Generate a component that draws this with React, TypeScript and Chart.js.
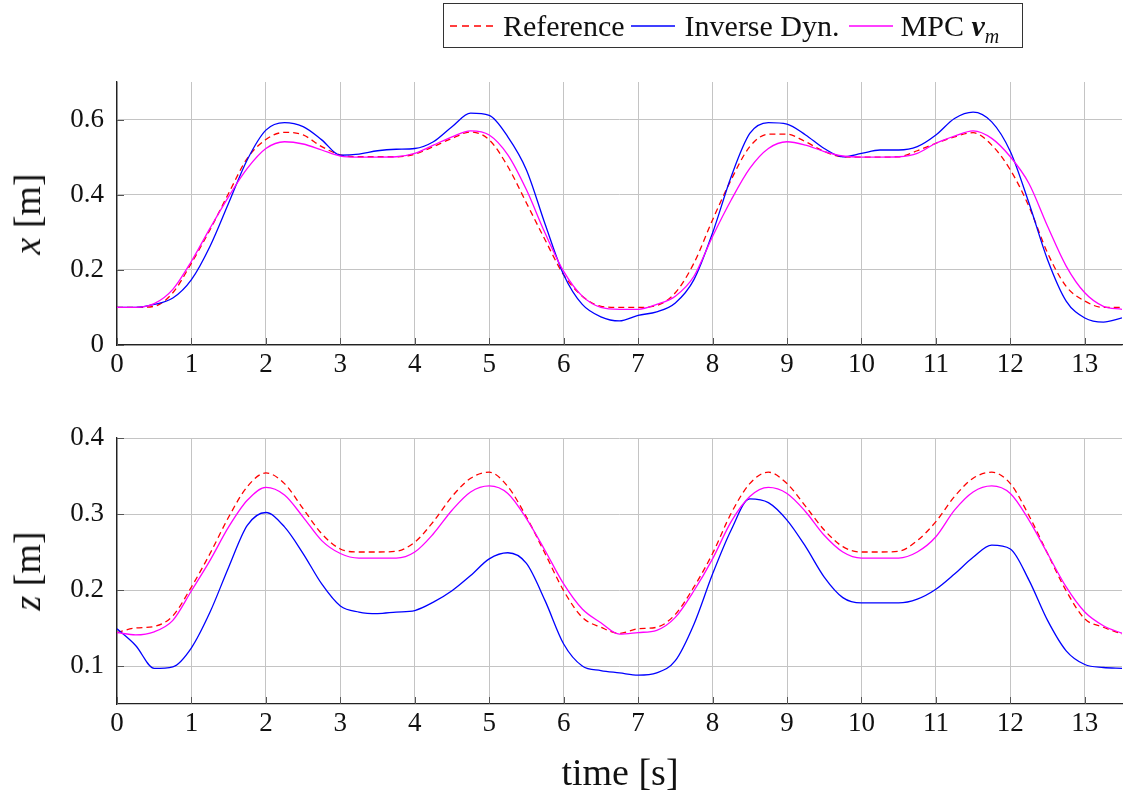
import React, { useEffect, useRef } from "react";
import { Chart, registerables } from "chart.js";

Chart.register(...registerables);

const time = [
  0, 0.25, 0.5, 0.75, 1, 1.25, 1.5, 1.75, 2, 2.25, 2.5, 2.75, 3, 3.25, 3.5, 3.75,
  4, 4.25, 4.5, 4.75, 5, 5.25, 5.5, 5.75, 6, 6.25, 6.5, 6.75, 7, 7.25, 7.5, 7.75,
  8, 8.25, 8.5, 8.75, 9, 9.25, 9.5, 9.75, 10, 10.25, 10.5, 10.75, 11, 11.25, 11.5,
  11.75, 12, 12.25, 12.5, 12.75, 13, 13.25, 13.5,
];

const refX = [
  0.1, 0.1, 0.103, 0.139, 0.218, 0.307, 0.404, 0.497, 0.547, 0.566, 0.559, 0.528, 0.506, 0.501, 0.501, 0.501,
  0.508, 0.528, 0.55, 0.567, 0.546, 0.475, 0.378, 0.28, 0.187, 0.13, 0.103, 0.1, 0.1, 0.105, 0.139, 0.218,
  0.333, 0.44, 0.528, 0.561, 0.561, 0.541, 0.515, 0.501, 0.5, 0.5, 0.501, 0.517, 0.537, 0.554, 0.565,
  0.532, 0.466, 0.369, 0.245, 0.156, 0.117, 0.1, 0.1,
];
const invX = [
  0.1, 0.1, 0.108, 0.125, 0.174, 0.263, 0.378, 0.493, 0.572, 0.592, 0.581, 0.546, 0.505, 0.508, 0.517, 0.521,
  0.523, 0.541, 0.581, 0.617, 0.611, 0.554, 0.466, 0.322, 0.187, 0.108, 0.075, 0.064, 0.079, 0.088, 0.112, 0.174,
  0.298, 0.448, 0.563, 0.592, 0.588, 0.559, 0.523, 0.501, 0.51, 0.519, 0.519, 0.528, 0.559, 0.603, 0.62,
  0.594, 0.515, 0.378, 0.227, 0.117, 0.072, 0.061, 0.072,
];
const mpcX = [
  0.1, 0.1, 0.11, 0.148, 0.223, 0.311, 0.395, 0.47, 0.523, 0.541, 0.535, 0.519, 0.503, 0.5, 0.5, 0.501,
  0.51, 0.532, 0.554, 0.57, 0.559, 0.506, 0.413, 0.298, 0.196, 0.13, 0.1, 0.095, 0.095, 0.108, 0.13, 0.183,
  0.289, 0.386, 0.47, 0.523, 0.541, 0.532, 0.515, 0.503, 0.5, 0.5, 0.501, 0.51, 0.537, 0.556, 0.57,
  0.55, 0.501, 0.43, 0.316, 0.21, 0.139, 0.103, 0.095,
];

const refZ = [
  0.144, 0.15, 0.152, 0.166, 0.204, 0.248, 0.296, 0.336, 0.354, 0.34, 0.307, 0.274, 0.254, 0.25, 0.25, 0.251,
  0.263, 0.29, 0.323, 0.347, 0.355, 0.336, 0.296, 0.248, 0.199, 0.164, 0.151, 0.143, 0.149, 0.151, 0.168, 0.204,
  0.248, 0.301, 0.34, 0.355, 0.34, 0.31, 0.279, 0.257, 0.25, 0.25, 0.251, 0.265, 0.29, 0.323, 0.347,
  0.355, 0.34, 0.298, 0.248, 0.199, 0.162, 0.151, 0.142,
];
const invZ = [
  0.149, 0.127, 0.097, 0.099, 0.124, 0.171, 0.23, 0.285, 0.302, 0.283, 0.248, 0.208, 0.179, 0.171, 0.169, 0.171,
  0.173, 0.184, 0.199, 0.219, 0.241, 0.249, 0.235, 0.186, 0.129, 0.1, 0.094, 0.091, 0.088, 0.091, 0.107, 0.155,
  0.221, 0.279, 0.32, 0.315, 0.292, 0.257, 0.217, 0.19, 0.183, 0.183, 0.183, 0.188, 0.201, 0.221, 0.243,
  0.259, 0.254, 0.213, 0.16, 0.12, 0.102, 0.098, 0.097,
];
const mpcZ = [
  0.144, 0.141, 0.145, 0.16, 0.199, 0.239, 0.283, 0.318, 0.335, 0.325, 0.296, 0.265, 0.248, 0.242, 0.242, 0.242,
  0.25, 0.274, 0.305, 0.329, 0.337, 0.327, 0.294, 0.252, 0.208, 0.175, 0.157, 0.142, 0.144, 0.147, 0.164, 0.199,
  0.241, 0.29, 0.323, 0.335, 0.327, 0.303, 0.272, 0.25, 0.242, 0.242, 0.242, 0.25, 0.27, 0.305, 0.329,
  0.337, 0.327, 0.292, 0.248, 0.204, 0.171, 0.153, 0.143,
];

const seriesNames = ["Reference", "Inverse Dyn.", "MPC v_m"];
const seriesColors = ["#ff0000", "#0000ff", "#ff00ff"];

const FONT = "'Liberation Serif', 'Times New Roman', serif";
const TICK_SIZE = 27;

const innerTicks = {
  id: "innerTicks",
  afterDraw(chart: any) {
    const { ctx, chartArea, scales } = chart;
    ctx.save();
    ctx.strokeStyle = "#555";
    ctx.lineWidth = 1;
    ctx.beginPath();
    for (const t of scales.x.ticks) {
      const px = Math.round(scales.x.getPixelForValue(t.value)) + 0.5;
      ctx.moveTo(px, chartArea.bottom);
      ctx.lineTo(px, chartArea.bottom - 7);
    }
    for (const t of scales.y.ticks) {
      const py = Math.round(scales.y.getPixelForValue(t.value)) + 0.5;
      ctx.moveTo(chartArea.left, py);
      ctx.lineTo(chartArea.left + 7, py);
    }
    ctx.stroke();
    ctx.restore();
  },
};

function makeDatasets(a: number[], b: number[], c: number[]) {
  const arrs = [a, b, c];
  return arrs.map((arr, i) => ({
    label: seriesNames[i],
    data: time.map((t, k) => ({ x: t, y: arr[k] })),
    borderColor: seriesColors[i],
    backgroundColor: seriesColors[i],
    borderWidth: 1.3,
    borderDash: i === 0 ? [6, 4] : [],
    pointRadius: 0,
    cubicInterpolationMode: "monotone" as const,
    fill: false,
    order: 3 - i,
  }));
}

function makeConfig(
  datasets: any[],
  yMin: number,
  yMax: number,
  padTop: number,
  xHeight: number
): any {
  return {
    type: "line",
    data: { datasets },
    plugins: [innerTicks],
    options: {
      responsive: false,
      animation: false,
      layout: { padding: { top: padTop, right: 1, left: 0, bottom: 0 } },
      plugins: { legend: { display: false }, tooltip: { enabled: false } },
      scales: {
        x: {
          type: "linear",
          min: 0,
          max: 13.5,
          afterFit: (s: any) => {
            s.height = xHeight;
          },
          ticks: {
            stepSize: 1,
            includeBounds: false,
            maxRotation: 0,
            autoSkip: false,
            padding: 4,
            color: "#111",
            font: { family: FONT, size: TICK_SIZE },
          },
          grid: { color: "#c4c4c4", lineWidth: 1, drawTicks: false },
          border: { display: true, color: "#222", width: 1.3 },
        },
        y: {
          type: "linear",
          min: yMin,
          max: yMax,
          afterFit: (s: any) => {
            s.width = 117;
          },
          ticks: {
            stepSize: yMax > 0.5 ? 0.2 : 0.1,
            includeBounds: false,
            padding: 13,
            color: "#111",
            font: { family: FONT, size: TICK_SIZE },
            callback: (v: number) => String(Math.round(v * 10) / 10),
          },
          grid: { color: "#c4c4c4", lineWidth: 1, drawTicks: false },
          border: { display: true, color: "#222", width: 1.3 },
        },
      },
    },
  };
}

function LegendLine({ color, dashed }: { color: string; dashed?: boolean }) {
  return (
    <svg width={44} height={10} style={{ display: "block", flex: "none" }}>
      <line
        x1={0}
        y1={5}
        x2={44}
        y2={5}
        stroke={color}
        strokeWidth={1.3}
        strokeDasharray={dashed ? "7 5" : undefined}
      />
    </svg>
  );
}

export default function App() {
  const topRef = useRef<HTMLCanvasElement>(null);
  const botRef = useRef<HTMLCanvasElement>(null);

  useEffect(() => {
    const c1 = new Chart(topRef.current!, makeConfig(makeDatasets(refX, invX, mpcX), 0, 0.7, 82, 35));
    const c2 = new Chart(botRef.current!, makeConfig(makeDatasets(refZ, invZ, mpcZ), 0.05, 0.4, 58, 92));
    return () => {
      c1.destroy();
      c2.destroy();
    };
  }, []);

  const text: React.CSSProperties = { fontFamily: FONT, color: "#111", whiteSpace: "nowrap" };

  return (
    <div
      style={{
        position: "absolute",
        left: 0,
        top: 0,
        width: 1123,
        height: 796,
        background: "#fff",
        overflow: "hidden",
      }}
    >
      <canvas ref={topRef} width={1123} height={380} style={{ position: "absolute", left: 0, top: 0, display: "block" }} />
      <canvas ref={botRef} width={1123} height={416} style={{ position: "absolute", left: 0, top: 380, display: "block" }} />

      {/* Legend */}
      <div
        style={{
          position: "absolute",
          left: 443,
          top: 3,
          width: 580,
          height: 45,
          boxSizing: "border-box",
          border: "1.3px solid #333",
          display: "flex",
          alignItems: "center",
          paddingLeft: 6,
          ...text,
          fontSize: 30,
        }}
      >
        <LegendLine color={seriesColors[0]} dashed />
        <span style={{ marginLeft: 9, marginRight: 6 }}>Reference</span>
        <LegendLine color={seriesColors[1]} />
        <span style={{ marginLeft: 10, marginRight: 9 }}>Inverse Dyn.</span>
        <LegendLine color={seriesColors[2]} />
        <span style={{ marginLeft: 8 }}>
          MPC <b><i>v</i></b>
          <i style={{ fontSize: 20, position: "relative", top: 7 }}>m</i>
        </span>
      </div>

      {/* Axis titles */}
      <div
        style={{
          position: "absolute",
          left: 27,
          top: 214,
          transform: "translate(-50%, -50%) rotate(-90deg)",
          ...text,
          fontSize: 38,
        }}
      >
        <i>x</i> [m]
      </div>
      <div
        style={{
          position: "absolute",
          left: 27,
          top: 571,
          transform: "translate(-50%, -50%) rotate(-90deg)",
          ...text,
          fontSize: 38,
        }}
      >
        <i>z</i> [m]
      </div>
      <div
        style={{
          position: "absolute",
          left: 620,
          top: 772,
          transform: "translate(-50%, -50%)",
          ...text,
          fontSize: 38,
        }}
      >
        time [s]
      </div>
    </div>
  );
}
